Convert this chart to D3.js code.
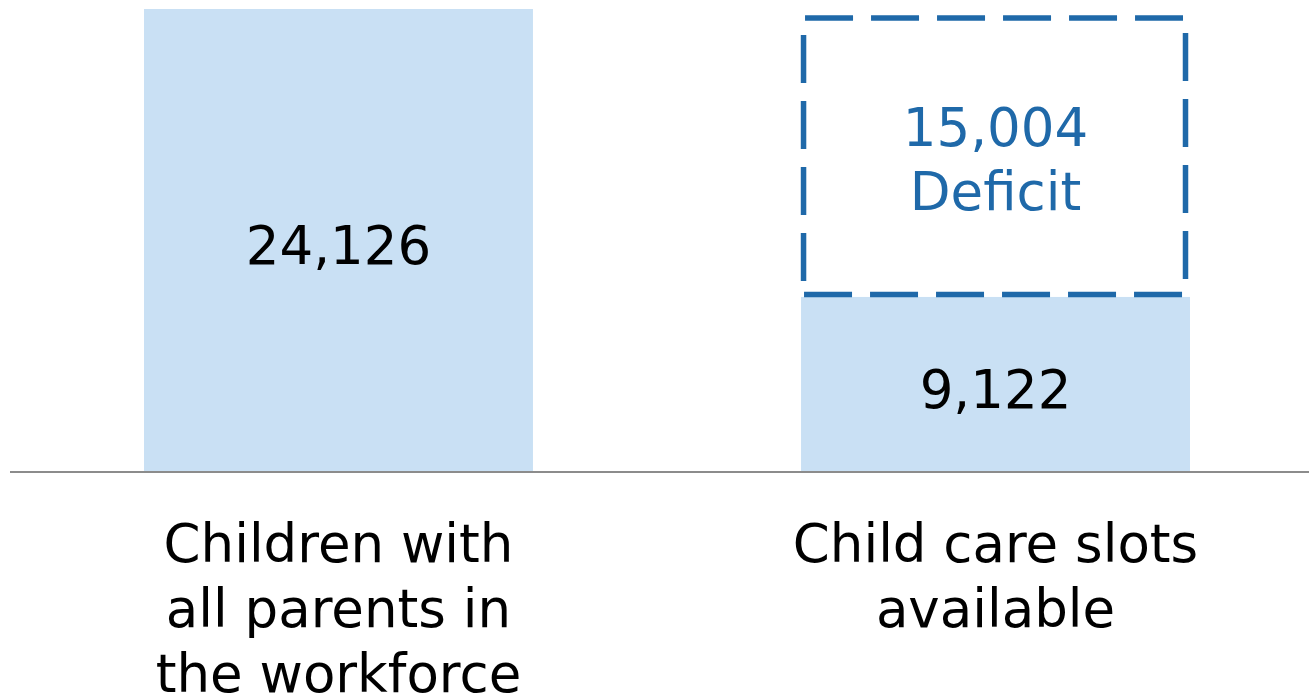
<!DOCTYPE html>
<html>
<head>
<meta charset="utf-8">
<script src="https://cdn.jsdelivr.net/npm/d3@7"></script>
<style>
  html, body { margin: 0; padding: 0; background: #fff; }
  svg { display: block; }
  text { font-family: "DejaVu Sans", Verdana, sans-serif; }
</style>
</head>
<body>
<svg id="chart" width="1309" height="697"></svg>
<script>
// ---- data ----
const categories = ["Children with all parents in the workforce", "Child care slots available"];
const categoryLines = [["Children with", "all parents in", "the workforce"], ["Child care slots", "available"]];
const values = [24126, 9122];
const deficit = [15004];
const deficitLabel = ["15,004", "Deficit"];

// ---- layout ----
const W = 1309, H = 697;
const baseY = 472, topY = 9;
const svg = d3.select("#chart");

const x = d3.scaleBand().domain(categories).range([144, 1190]).paddingInner(0.408).paddingOuter(0);
const y = d3.scaleLinear().domain([0, values[0]]).range([baseY, topY]);
const fmt = d3.format(",");

const barFill = "#c9e0f4";
const blue = "#1f69a9";
const fs = 53;

// bars
svg.selectAll("rect.bar").data(values).join("rect")
  .attr("class", "bar")
  .attr("x", (d, i) => x(categories[i]))
  .attr("width", x.bandwidth())
  .attr("y", d => y(d))
  .attr("height", d => baseY - y(d))
  .attr("fill", barFill);

// value labels
svg.selectAll("text.val").data(values).join("text")
  .attr("class", "val")
  .attr("x", (d, i) => x(categories[i]) + x.bandwidth() / 2)
  .attr("y", d => (y(d) + baseY) / 2 + 0.45 * fs)
  .attr("text-anchor", "middle")
  .attr("font-size", fs)
  .attr("fill", "#000")
  .text(d => fmt(d));

// deficit dashed box
const bx = x(categories[1]), bw = x.bandwidth();
const dTop = y(values[1] + deficit[0]);
const dBot = y(values[1]);
const g = svg.append("g")
  .attr("stroke", blue).attr("stroke-width", 5.5).attr("stroke-dasharray", "48,18").attr("fill", "none");
const edges = [
  [bx + 4, dTop + 9, bx + bw - 7, dTop + 9],
  [bx + 3, dBot - 2.5, bx + bw - 7, dBot - 2.5],
  [bx + 2.5, dTop + 26, bx + 2.5, dBot - 15],
  [bx + bw - 4.5, dTop + 24, bx + bw - 4.5, dBot - 16]
];
g.selectAll("line").data(edges).join("line")
  .attr("x1", d => d[0]).attr("y1", d => d[1])
  .attr("x2", d => d[2]).attr("y2", d => d[3]);

const dMid = (dTop + dBot) / 2;
svg.selectAll("text.def").data(deficitLabel).join("text")
  .attr("class", "def")
  .attr("x", bx + bw / 2)
  .attr("y", (d, i) => dMid + 0.36 * fs - 26.5 + i * 64)
  .attr("text-anchor", "middle")
  .attr("font-size", fs)
  .attr("fill", blue)
  .text(d => d);

// baseline
svg.append("line")
  .attr("x1", 10).attr("x2", W)
  .attr("y1", baseY).attr("y2", baseY)
  .attr("stroke", "#8c8c8c").attr("stroke-width", 2);

// category labels
categories.forEach((c, i) => {
  const t = svg.append("text")
    .attr("text-anchor", "middle")
    .attr("font-size", fs)
    .attr("fill", "#000");
  categoryLines[i].forEach((ln, j) => {
    t.append("tspan")
      .attr("x", x(c) + x.bandwidth() / 2)
      .attr("y", 562 + j * 65)
      .text(ln);
  });
});
</script>
</body>
</html>
